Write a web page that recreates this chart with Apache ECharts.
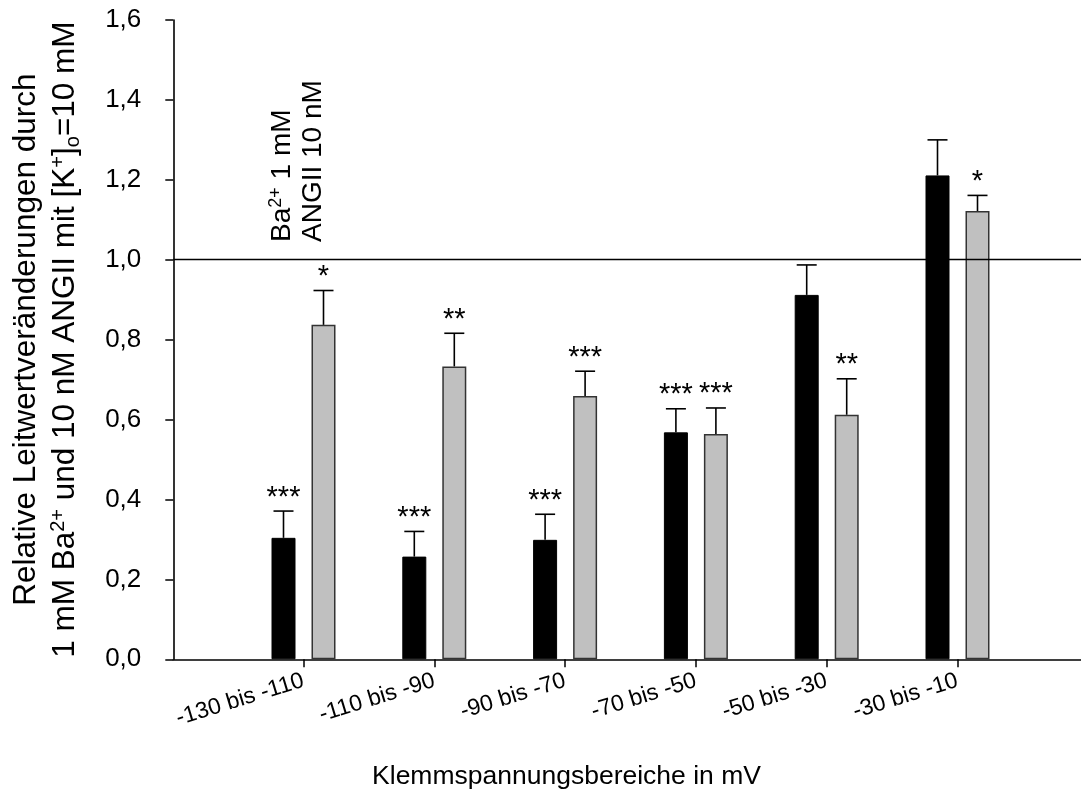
<!DOCTYPE html>
<html>
<head>
<meta charset="utf-8">
<script src="https://cdn.jsdelivr.net/npm/echarts@6/dist/echarts.min.js"></script>
<style>html,body{margin:0;padding:0;background:#fff}#c{width:1081px;height:791px}</style>
</head>
<body>
<div id="c"></div>
<script>
// ---- data ----
const categories = ['-130 bis -110', '-110 bis -90', '-90 bis -70', '-70 bis -50', '-50 bis -30', '-30 bis -10'];
const baValues  = [0.304, 0.257, 0.299, 0.568, 0.912, 1.211];
const baErrors  = [0.067, 0.063, 0.064, 0.059, 0.075, 0.089];
const baStars   = ['***', '***', '***', '***', '', ''];
const angValues = [0.837, 0.733, 0.659, 0.564, 0.612, 1.122];
const angErrors = [0.086, 0.083, 0.062, 0.065, 0.090, 0.039];
const angStars  = ['*', '**', '***', '***', '**', '*'];
const yTicks = { min: 0, max: 1.6, interval: 0.2 };
const referenceLevel = 1.0;

const FONT = 'Liberation Sans, Arial, sans-serif';
const chart = echarts.init(document.getElementById('c'), null, { renderer: 'canvas' });

const BAR_W = 24, BAR_GAP = 16;
const OFF = (BAR_W + BAR_GAP) / 2;

function errRender(stars, dx) {
  return function (params, api) {
    const i = api.value(0), v = api.value(1), e = api.value(2);
    const b = api.coord([i, v]);
    const t = api.coord([i, v + e]);
    const x = b[0] + dx;
    const st = { stroke: '#000', lineWidth: 1.6 };
    const children = [
      { type: 'line', shape: { x1: x, y1: b[1], x2: x, y2: t[1] }, style: st },
      { type: 'line', shape: { x1: x - 10, y1: t[1], x2: x + 10, y2: t[1] }, style: st }
    ];
    if (stars[i]) {
      children.push({ type: 'text', style: { text: stars[i], x: x, y: t[1] + 1, align: 'center', verticalAlign: 'bottom',
        fontSize: 29, fontFamily: FONT, fill: '#000' } });
    }
    return { type: 'group', children: children };
  };
}

const baErrData = baValues.map((v, i) => [i, v, baErrors[i]]);
const angErrData = angValues.map((v, i) => [i, v, angErrors[i]]);

const GRID_TOP = 20, GRID_H = 639.3;
const option = {
  backgroundColor: '#fff',
  animation: false,
  grid: [
    { left: 173.3, top: GRID_TOP, width: 907.7, height: GRID_H, containLabel: false, outerBoundsMode: 'none' },
    { left: 238.1, top: GRID_TOP, width: 784.8, height: GRID_H, containLabel: false, outerBoundsMode: 'none' }
  ],
  xAxis: [
    { gridIndex: 0, type: 'value', min: 0, max: 1, axisLine: { show: true, lineStyle: { color: '#000', width: 1.6 } },
      axisTick: { show: false }, axisLabel: { show: false }, splitLine: { show: false } },
    { gridIndex: 1, type: 'category', data: categories,
      axisLine: { show: false },
      axisTick: { show: true, alignWithLabel: true, length: 8, lineStyle: { color: '#000', width: 1.5 } },
      axisLabel: { rotate: 17, fontSize: 23, fontFamily: FONT, color: '#000', margin: 21, interval: 0 },
      splitLine: { show: false } }
  ],
  yAxis: [
    { gridIndex: 0, type: 'value', min: yTicks.min, max: yTicks.max, interval: yTicks.interval,
      axisLine: { show: true, lineStyle: { color: '#000', width: 1.6 } },
      axisTick: { show: true, length: 8, lineStyle: { color: '#000', width: 1.5 } },
      axisLabel: { fontSize: 26, fontFamily: FONT, color: '#000', margin: 32,
        formatter: v => v.toFixed(1).replace('.', ',') },
      splitLine: { show: false },
      name: 'Relative Leitwertveränderungen durch\n1 mM Ba{sup|2+} und 10 nM ANGII mit [K{sup|+}]{sub|o}=10 mM',
      nameLocation: 'middle', nameGap: 88, nameRotate: 90,
      nameTextStyle: { fontSize: 31.5, fontFamily: FONT, color: '#000', lineHeight: 39,
        rich: {
          sup: { fontSize: 20, fontFamily: FONT, color: '#000', verticalAlign: 'top', lineHeight: 39, padding: [2, 0, 0, 0] },
          sub: { fontSize: 20, fontFamily: FONT, color: '#000', verticalAlign: 'bottom', lineHeight: 39, padding: [0, 0, 2, 0] }
        } } },
    { gridIndex: 1, type: 'value', min: yTicks.min, max: yTicks.max, interval: yTicks.interval, show: false }
  ],
  series: [
    { type: 'line', xAxisIndex: 0, yAxisIndex: 0, data: [], silent: true,
      markLine: { silent: true, symbol: ['none', 'none'], label: { show: false },
        lineStyle: { color: '#000', width: 1.3, type: 'solid' }, data: [{ yAxis: referenceLevel }] } },
    { type: 'bar', name: 'Ba2+ 1 mM', xAxisIndex: 1, yAxisIndex: 1, data: baValues, barWidth: BAR_W,
      barGap: (BAR_GAP / BAR_W * 100) + '%',
      itemStyle: { color: '#000', borderColor: '#000', borderWidth: 1 } },
    { type: 'bar', name: 'ANGII 10 nM', xAxisIndex: 1, yAxisIndex: 1, data: angValues, barWidth: BAR_W,
      barGap: (BAR_GAP / BAR_W * 100) + '%',
      itemStyle: { color: '#c0c0c0', borderColor: '#333', borderWidth: 1.5 } },
    { type: 'custom', xAxisIndex: 1, yAxisIndex: 1, data: baErrData, renderItem: errRender(baStars, -OFF), z: 5 },
    { type: 'custom', xAxisIndex: 1, yAxisIndex: 1, data: angErrData, renderItem: errRender(angStars, OFF), z: 5 }
  ],
  graphic: [
    { type: 'text', x: 298, y: 242, rotation: Math.PI / 2,
      style: { text: 'Ba{sup|2+} 1 mM\nANGII 10 nM', align: 'left', verticalAlign: 'middle',
        fontSize: 28, fontFamily: FONT, fill: '#000', lineHeight: 31,
        rich: { sup: { fontSize: 18, fontFamily: FONT, fill: '#000', verticalAlign: 'top', lineHeight: 31, padding: [0, 0, 0, 0] } } } },
    { type: 'text', x: 566.5, y: 777,
      style: { text: 'Klemmspannungsbereiche in mV', align: 'center', verticalAlign: 'middle',
        fontSize: 26.5, fontFamily: FONT, fill: '#000' } }
  ]
};
chart.setOption(option);
</script>
</body>
</html>
